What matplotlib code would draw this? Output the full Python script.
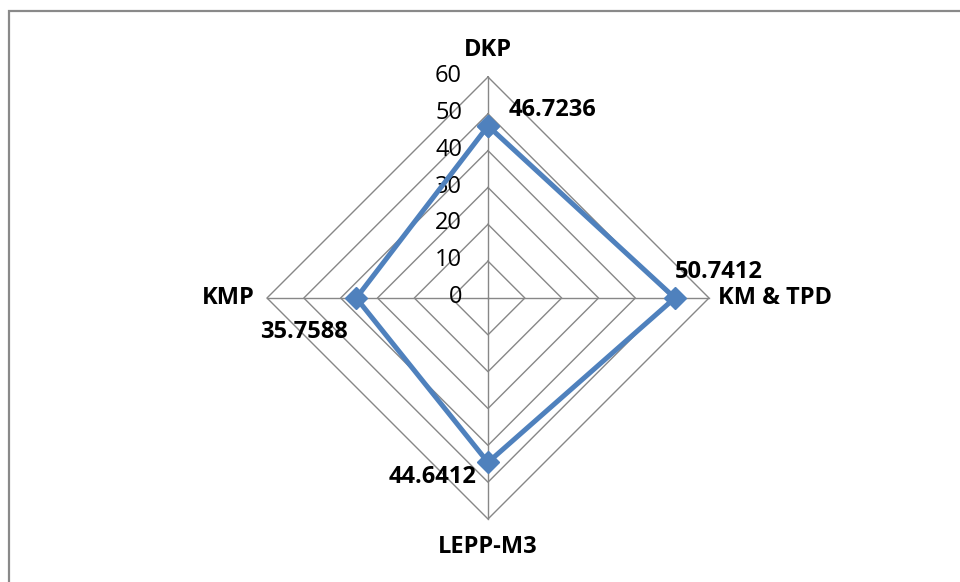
import numpy as np
import matplotlib
matplotlib.use("Agg")
import matplotlib.pyplot as plt
from matplotlib.patches import Rectangle

# categories clockwise from the top
categories = ["DKP", "KM & TPD", "LEPP-M3", "KMP"]
values = [46.7236, 50.7412, 44.6412, 35.7588]
ticks = [0, 10, 20, 30, 40, 50, 60]
rmax = 60

plt.rcParams['font.family'] = ['Open Sans', 'DejaVu Sans']

W, H = 960, 582
fig = plt.figure(figsize=(W / 100, H / 100), dpi=100)
ax = fig.add_axes([0, 0, 1, 1])
ax.set_axis_off()

# pixel layout: center and radius of the 60 ring
cx, cy, rad = 488, 298, 221
scale = rad / rmax
ax.set_xlim(-cx / scale, (W - cx) / scale)
ax.set_ylim(-(H - cy) / scale, cy / scale)

# direction of each spoke (top, right, bottom, left)
angles = np.pi / 2 - np.arange(len(categories)) * 2 * np.pi / len(categories)
dx, dy = np.cos(angles), np.sin(angles)

grid_col = "#878787"
for t in ticks[1:]:
    ax.plot(np.append(dx, dx[0]) * t, np.append(dy, dy[0]) * t,
            color=grid_col, lw=1.0, zorder=1)
for i in range(len(categories)):
    ax.plot([0, dx[i] * rmax], [0, dy[i] * rmax], color=grid_col, lw=1.0, zorder=1)

# tick labels along the vertical spoke
for t in ticks:
    ax.annotate(str(t), (0, t), xytext=(-26, 1), textcoords="offset pixels",
                ha="right", va="center", fontsize=17, color="#000000")

# data series
v = np.array(values)
ax.plot(np.append(dx * v, dx[0] * v[0]), np.append(dy * v, dy[0] * v[0]),
        color="#4F81BD", lw=3.6, marker="D", markersize=11,
        markerfacecolor="#4F81BD", markeredgecolor="#4F81BD", zorder=3)

# category labels
cat_off = [(0, 27, "center", "center"), (9, 0, "left", "center"),
           (0, -28, "center", "center"), (-12, 0, "right", "center")]
for i, name in enumerate(categories):
    ox, oy, ha, va = cat_off[i]
    ax.annotate(name, (dx[i] * rmax, dy[i] * rmax), xytext=(ox, oy),
                textcoords="offset pixels", ha=ha, va=va,
                fontsize=17, fontweight="bold", color="#000000")

# data labels
lab_off = [(21, 16, "left"), (0, 26, "left"), (-12, -15, "right"), (-8, -34, "right")]
for i, val in enumerate(values):
    ox, oy, ha = lab_off[i]
    ax.annotate(f"{val:g}", (dx[i] * val, dy[i] * val), xytext=(ox, oy),
                textcoords="offset pixels", ha=ha, va="center",
                fontsize=17, fontweight="bold", color="#000000")

# chart frame (right and bottom edges fall outside the picture)
fig.patches.append(Rectangle((8.5 / W, -0.1), 1.2, (H - 10.5) / H + 0.1,
                             transform=fig.transFigure, fill=False,
                             edgecolor="#898989", lw=1.6))

fig.savefig("out.png", dpi=100, facecolor="white")
